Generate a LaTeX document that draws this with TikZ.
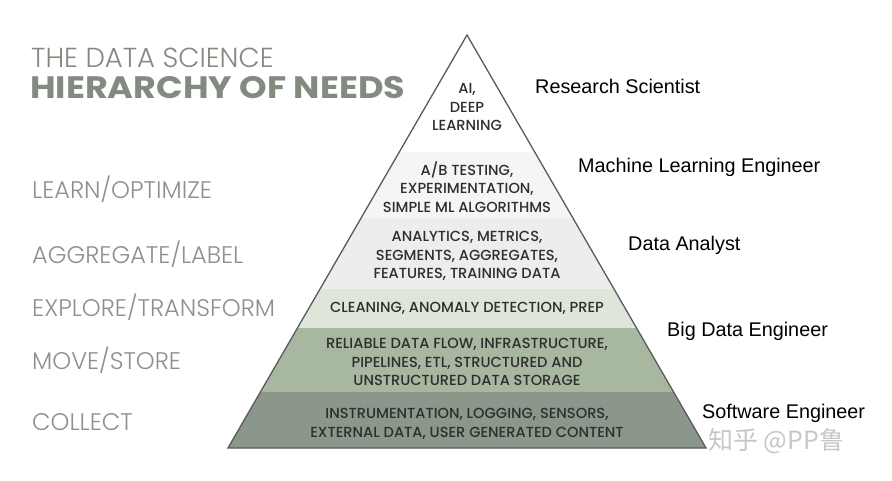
\documentclass[tikz,border=0pt]{standalone}
\usepackage{fontspec}
\setmainfont{Poppins}
\newfontfamily\arialf{Liberation Sans}
\newfontfamily\cjkf{Noto Sans CJK SC}
\newfontfamily\futl{Poppins Light}
\newfontfamily\futm{Poppins Medium}
\newfontfamily\futb[FakeStretch=1.13]{Poppins Bold}
\definecolor{bandA}{HTML}{FFFFFF}
\definecolor{bandB}{HTML}{F5F5F5}
\definecolor{bandC}{HTML}{EDEDED}
\definecolor{bandD}{HTML}{DEE6DA}
\definecolor{bandE}{HTML}{A8B8A0}
\definecolor{bandF}{HTML}{8B978A}
\definecolor{titlegray}{HTML}{838B81}
\definecolor{labelgray}{HTML}{8C918C}
\definecolor{pyrtext}{HTML}{2E2E2E}
\definecolor{edgegray}{HTML}{5A5A5A}
\tikzset{
  outline/.style={draw=edgegray, line width=1.3pt, line join=miter},
  lefttitle/.style={anchor=base west, inner sep=0pt, text=titlegray},
  leftlabel/.style={anchor=base west, inner sep=0pt, text=labelgray, font=\futl\fontsize{24}{27}\selectfont},
  rolelabel/.style={anchor=base west, inner sep=0pt, text=black, font=\arialf\fontsize{19.8}{22}\selectfont},
  pyrlabel/.style={anchor=center, inner sep=0pt, align=center, text=pyrtext, font=\futm\fontsize{14.6}{18.5}\selectfont},
}
\begin{document}
\begin{tikzpicture}[x=1pt,y=-1pt]
\useasboundingbox (0,0) rectangle (892,480);
\fill[white] (0,0) rectangle (892,480);
\coordinate (apex) at (467,35);
\coordinate (bl) at (228,448);
\coordinate (br) at (706,448);
\begin{scope}
\clip (apex) -- (br) -- (bl) -- cycle;
\fill[bandA] (200,30) rectangle (740,151.7);
\fill[bandB] (200,151.7) rectangle (740,217.5);
\fill[bandC] (200,217.5) rectangle (740,289.3);
\fill[bandD] (200,289.3) rectangle (740,327.7);
\fill[bandE] (200,327.7) rectangle (740,391.7);
\fill[bandF] (200,391.7) rectangle (740,450);
\end{scope}
\draw[outline] (apex) -- (br) -- (bl) -- cycle;

% title
\node[lefttitle, font=\futl\fontsize{27.5}{30}\selectfont] (t1) at (31,67) {THE DATA SCIENCE};
\node[lefttitle, font=\futb\fontsize{31}{34}\selectfont] (t2) at (30,98) {HIERARCHY OF NEEDS};

% left labels
\node[leftlabel] (l1) at (32,198) {LEARN/OPTIMIZE};
\node[leftlabel] (l2) at (32,263) {AGGREGATE/LABEL};
\node[leftlabel] (l3) at (32,316) {EXPLORE/TRANSFORM};
\node[leftlabel] (l4) at (32,369) {MOVE/STORE};
\node[leftlabel] (l5) at (32,430) {COLLECT};

% pyramid labels
\node[pyrlabel] (p1) at (467,107) {AI,\\DEEP\\LEARNING};
\node[pyrlabel] (p2) at (467,187) {A/B TESTING,\\EXPERIMENTATION,\\SIMPLE ML ALGORITHMS};
\node[pyrlabel] (p3) at (467,256) {ANALYTICS, METRICS,\\SEGMENTS, AGGREGATES,\\FEATURES, TRAINING DATA};
\node[pyrlabel] (p4) at (467,308.5) {CLEANING, ANOMALY DETECTION, PREP};
\node[pyrlabel] (p5) at (467,362) {RELIABLE DATA FLOW, INFRASTRUCTURE,\\PIPELINES, ETL, STRUCTURED AND\\UNSTRUCTURED DATA STORAGE};
\node[pyrlabel] (p6) at (467,424) {INSTRUMENTATION, LOGGING, SENSORS,\\EXTERNAL DATA, USER GENERATED CONTENT};

% roles
\node[rolelabel] (r1) at (535,93) {Research Scientist};
\node[rolelabel] (r2) at (578,172) {Machine Learning Engineer};
\node[rolelabel] (r3) at (628,250) {Data Analyst};
\node[rolelabel] (r4) at (667,336) {Big Data Engineer};
\node[rolelabel] (r5) at (702,418) {Software Engineer};

% watermark
\node[anchor=west, inner sep=0pt, text=black!22, font=\cjkf\fontsize{25}{28}\selectfont] (wm) at (708,441) {知乎 @PP鲁};
\end{tikzpicture}
\end{document}
